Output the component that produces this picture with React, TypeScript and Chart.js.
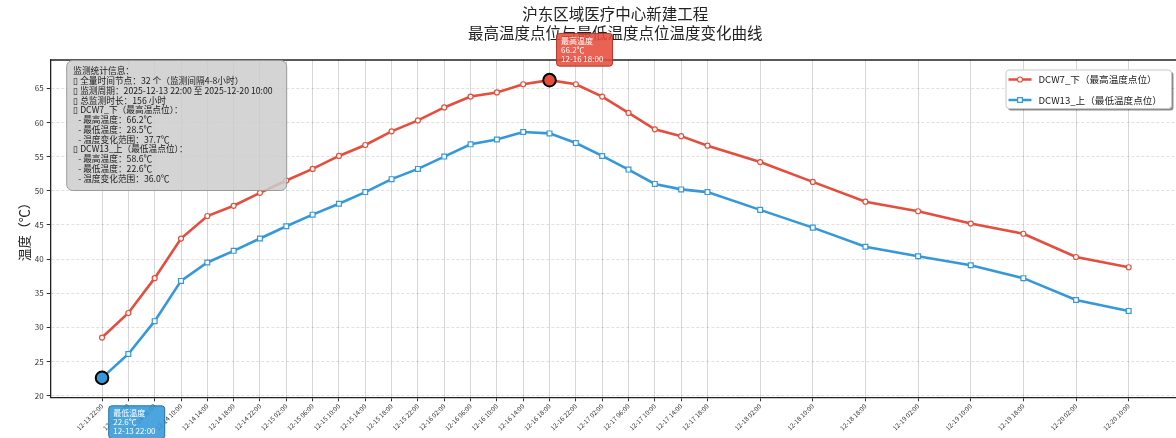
import React, { useEffect, useRef } from "react";
import { Chart, registerables } from "chart.js";

Chart.register(...registerables);

// ---- data ----
const timeLabels = [
  "12-13 22:00", "12-14 02:00", "12-14 06:00", "12-14 10:00", "12-14 14:00", "12-14 18:00",
  "12-14 22:00", "12-15 02:00", "12-15 06:00", "12-15 10:00", "12-15 14:00", "12-15 18:00",
  "12-15 22:00", "12-16 02:00", "12-16 06:00", "12-16 10:00", "12-16 14:00", "12-16 18:00",
  "12-16 22:00", "12-17 02:00", "12-17 06:00", "12-17 10:00", "12-17 14:00", "12-17 18:00",
  "12-18 02:00", "12-18 10:00", "12-18 18:00", "12-19 02:00", "12-19 10:00", "12-19 18:00",
  "12-20 02:00", "12-20 10:00",
];
// hours elapsed since 12-13 22:00 for each label
const elapsedHours = [
  0, 4, 8, 12, 16, 20, 24, 28, 32, 36, 40, 44, 48, 52, 56, 60, 64, 68, 72, 76, 80, 84, 88, 92,
  100, 108, 116, 124, 132, 140, 148, 156,
];
const dcw7Values = [
  28.5, 32.1, 37.2, 43.0, 46.3, 47.8, 49.7, 51.5, 53.2, 55.1, 56.7, 58.7, 60.3, 62.2, 63.8, 64.4,
  65.6, 66.2, 65.6, 63.8, 61.4, 59.0, 58.0, 56.6, 54.2, 51.3, 48.4, 47.0, 45.2, 43.7, 40.3, 38.8,
];
const dcw13Values = [
  22.6, 26.1, 30.9, 36.8, 39.5, 41.2, 43.0, 44.8, 46.5, 48.1, 49.8, 51.7, 53.2, 55.0, 56.8, 57.5,
  58.6, 58.4, 57.0, 55.1, 53.1, 51.0, 50.2, 49.8, 47.2, 44.6, 41.8, 40.4, 39.1, 37.2, 34.0, 32.4,
];
const yTickValues = [20, 25, 30, 35, 40, 45, 50, 55, 60, 65];
const xLimits = [-7.8, 163.8];
const yLimits = [19.75, 69.15];

const titleLines = ["沪东区域医疗中心新建工程", "最高温度点位与最低温度点位温度变化曲线"];
const yAxisTitle = "温度（℃）";
const seriesNames = ["DCW7_下（最高温度点位）", "DCW13_上（最低温度点位）"];
const periodText = "2025-12-13 22:00 至 2025-12-20 10:00";
const durationHours = 156;

const RED = "#e74c3c";
const BLUE = "#3498db";
const CJK = '"Noto Sans CJK SC", "Noto Sans", sans-serif';

function roundRect(ctx: CanvasRenderingContext2D, x: number, y: number, w: number, h: number, r: number) {
  ctx.beginPath();
  ctx.moveTo(x + r, y);
  ctx.lineTo(x + w - r, y);
  ctx.arcTo(x + w, y, x + w, y + r, r);
  ctx.lineTo(x + w, y + h - r);
  ctx.arcTo(x + w, y + h, x + w - r, y + h, r);
  ctx.lineTo(x + r, y + h);
  ctx.arcTo(x, y + h, x, y + h - r, r);
  ctx.lineTo(x, y + r);
  ctx.arcTo(x, y, x + r, y, r);
  ctx.closePath();
}

export default function App() {
  const ref = useRef<HTMLCanvasElement>(null);

  useEffect(() => {
    const canvas = ref.current!;
    const maxVal = Math.max(...dcw7Values);
    const maxIdx = dcw7Values.indexOf(maxVal);
    const minVal = Math.min(...dcw13Values);
    const minIdx = dcw13Values.indexOf(minVal);
    const r7min = Math.min(...dcw7Values);
    const r13max = Math.max(...dcw13Values);

    const infoLines: [number, string][] = [
      [0, "监测统计信息："],
      [0, `▯ 全量时间节点：${timeLabels.length} 个（监测间隔4-8小时）`],
      [0, `▯ 监测周期：${periodText}`],
      [0, `▯ 总监测时长：${durationHours} 小时`],
      [0, "▯ DCW7_下（最高温点位）："],
      [1, `- 最高温度：${maxVal.toFixed(1)}℃`],
      [1, `- 最低温度：${r7min.toFixed(1)}℃`],
      [1, `- 温度变化范围：${(maxVal - r7min).toFixed(1)}℃`],
      [0, "▯ DCW13_上（最低温点位）："],
      [1, `- 最高温度：${r13max.toFixed(1)}℃`],
      [1, `- 最低温度：${minVal.toFixed(1)}℃`],
      [1, `- 温度变化范围：${(r13max - minVal).toFixed(1)}℃`],
    ];

    const decor = {
      id: "decor",
      afterDraw(chart: any) {
        const { ctx, chartArea: ca, scales } = chart;
        const xs = scales.x;
        const ys = scales.y;
        ctx.save();
        // top spine
        ctx.strokeStyle = "#222";
        ctx.lineWidth = 1.3;
        ctx.beginPath();
        ctx.moveTo(ca.left, ca.top);
        ctx.lineTo(ca.right, ca.top);
        ctx.stroke();

        // title
        const cx = (ca.left + ca.right) / 2;
        ctx.fillStyle = "#222";
        ctx.font = `15.5px ${CJK}`;
        ctx.textAlign = "center";
        ctx.textBaseline = "middle";
        ctx.fillText(titleLines[0], cx, 14.5);
        ctx.fillText(titleLines[1], cx, 33.5);

        // y axis title
        ctx.save();
        ctx.translate(24, (ca.top + ca.bottom) / 2);
        ctx.rotate(-Math.PI / 2);
        ctx.font = `13px ${CJK}`;
        ctx.fillStyle = "#222";
        ctx.fillText(yAxisTitle, 0, 0);
        ctx.restore();

        // info box
        const bx = ca.left + 16;
        const by = ca.top + 0.5;
        roundRect(ctx, bx, by, 220, 130, 6);
        ctx.fillStyle = "rgba(205,205,205,0.85)";
        ctx.fill();
        ctx.strokeStyle = "#9a9a9a";
        ctx.lineWidth = 1;
        ctx.stroke();
        ctx.fillStyle = "#1a1a1a";
        ctx.font = `8.7px ${CJK}`;
        ctx.textAlign = "left";
        ctx.textBaseline = "middle";
        infoLines.forEach(([ind, t], i) => {
          ctx.fillText(t, bx + 6.5 + ind * 5, by + 10.5 + i * 9.75);
        });

        // legend
        const lx = ca.right - 174;
        const ly = ca.top + 10;
        const lw = 165.5;
        const lh = 38.5;
        roundRect(ctx, lx + 2, ly + 2, lw, lh, 3);
        ctx.fillStyle = "rgba(0,0,0,0.45)";
        ctx.fill();
        roundRect(ctx, lx, ly, lw, lh, 3);
        ctx.fillStyle = "#fff";
        ctx.fill();
        ctx.strokeStyle = "#c8c8c8";
        ctx.stroke();
        const rows = [
          { color: RED, shape: "circle", y: ly + 9.5 },
          { color: BLUE, shape: "rect", y: ly + 30 },
        ];
        rows.forEach((r, i) => {
          ctx.strokeStyle = r.color;
          ctx.lineWidth = 2.5;
          ctx.beginPath();
          ctx.moveTo(lx + 2.5, r.y);
          ctx.lineTo(lx + 25.5, r.y);
          ctx.stroke();
          ctx.fillStyle = "#fff";
          ctx.lineWidth = 1.2;
          ctx.beginPath();
          if (r.shape === "circle") ctx.arc(lx + 14, r.y, 2.5, 0, Math.PI * 2);
          else ctx.rect(lx + 14 - 2.4, r.y - 2.4, 4.8, 4.8);
          ctx.fill();
          ctx.stroke();
          ctx.fillStyle = "#1a1a1a";
          ctx.font = `9.6px ${CJK}`;
          ctx.textAlign = "left";
          ctx.textBaseline = "middle";
          ctx.fillText(seriesNames[i], lx + 32.5, r.y);
        });

        // annotation boxes
        const drawNote = (left: number, top: number, fill: string, edge: string, lines: string[]) => {
          roundRect(ctx, left, top, 56, 32.7, 3);
          ctx.fillStyle = fill;
          ctx.fill();
          ctx.strokeStyle = edge;
          ctx.lineWidth = 1;
          ctx.stroke();
          ctx.fillStyle = "#fff";
          ctx.font = `8px ${CJK}`;
          ctx.textAlign = "left";
          ctx.textBaseline = "middle";
          lines.forEach((t, i) => ctx.fillText(t, left + 4.5, top + 7.5 + i * 8.8));
        };
        const pMaxX = xs.getPixelForValue(elapsedHours[maxIdx]);
        const pMaxY = ys.getPixelForValue(maxVal);
        drawNote(pMaxX + 7, pMaxY - 14 - 32.7, "rgba(231,76,60,0.88)", "#b03a2e",
          ["最高温度", `${maxVal.toFixed(1)}℃`, timeLabels[maxIdx]]);
        const pMinX = xs.getPixelForValue(elapsedHours[minIdx]);
        const pMinY = ys.getPixelForValue(minVal);
        drawNote(pMinX + 6.7, pMinY + 28, "rgba(52,152,219,0.88)", "#2471a3",
          ["最低温度", `${minVal.toFixed(1)}℃`, timeLabels[minIdx]]);
        ctx.restore();
      },
    };

    const chart = new Chart(canvas, {
      type: "line",
      data: {
        datasets: [
          {
            label: "max-highlight",
            data: [{ x: elapsedHours[maxIdx], y: maxVal }],
            showLine: false,
            pointRadius: 6.3,
            pointBackgroundColor: RED,
            pointBorderColor: "#000",
            pointBorderWidth: 2,
            order: 0,
          },
          {
            label: "min-highlight",
            data: [{ x: elapsedHours[minIdx], y: minVal }],
            showLine: false,
            pointRadius: 6.3,
            pointBackgroundColor: BLUE,
            pointBorderColor: "#000",
            pointBorderWidth: 2,
            order: 0,
          },
          {
            label: seriesNames[1],
            data: elapsedHours.map((h, i) => ({ x: h, y: dcw13Values[i] })),
            borderColor: BLUE,
            borderWidth: 2.6,
            pointStyle: "rect",
            pointRadius: 3.4,
            pointBackgroundColor: "#fff",
            pointBorderColor: BLUE,
            pointBorderWidth: 1.2,
            tension: 0,
            order: 1,
          },
          {
            label: seriesNames[0],
            data: elapsedHours.map((h, i) => ({ x: h, y: dcw7Values[i] })),
            borderColor: RED,
            borderWidth: 2.6,
            pointStyle: "circle",
            pointRadius: 2.5,
            pointBackgroundColor: "#fff",
            pointBorderColor: RED,
            pointBorderWidth: 1.2,
            tension: 0,
            order: 2,
          },
        ],
      },
      options: {
        responsive: false,
        animation: false,
        devicePixelRatio: 1,
        events: [],
        layout: { padding: { top: 60, right: 20, left: 0, bottom: 0 } },
        plugins: { legend: { display: false }, title: { display: false }, tooltip: { enabled: false } },
        scales: {
          x: {
            type: "linear",
            min: xLimits[0],
            max: xLimits[1],
            bounds: "data",
            afterBuildTicks: (s: any) => {
              s.ticks = elapsedHours.map((v) => ({ value: v }));
            },
            afterFit: (s: any) => {
              s.height = 438 - 397.3;
              s.paddingLeft = 0;
              s.paddingRight = 0;
            },
            ticks: {
              autoSkip: false,
              minRotation: 45,
              maxRotation: 45,
              padding: 1,
              color: "#333",
              font: { size: 6.5, family: CJK },
              callback: (_v: any, i: number) => timeLabels[i],
            },
            grid: { color: "rgba(0,0,0,0.16)", lineWidth: 1, tickColor: "#333", tickLength: 4 },
            border: { color: "#222", width: 1.3 },
          },
          y: {
            type: "linear",
            min: yLimits[0],
            max: yLimits[1],
            bounds: "data",
            afterBuildTicks: (s: any) => {
              s.ticks = yTickValues.map((v) => ({ value: v }));
            },
            afterFit: (s: any) => {
              s.width = 50.7;
            },
            ticks: { padding: 3, color: "#333", font: { size: 8, family: CJK } },
            grid: { color: "rgba(0,0,0,0.12)", lineWidth: 1, tickColor: "#333", tickLength: 4 },
            border: { color: "#222", width: 1.3, dash: [3, 2] },
          },
        },
      },
      plugins: [decor],
    } as any);
    return () => chart.destroy();
  }, []);

  return (
    <div
      style={{
        position: "fixed",
        left: 0,
        top: 0,
        width: 1176,
        height: 438,
        overflow: "hidden",
        background: "#fff",
      }}
    >
      <canvas ref={ref} width={1200} height={438} style={{ display: "block", width: 1200, height: 438 }} />
    </div>
  );
}
